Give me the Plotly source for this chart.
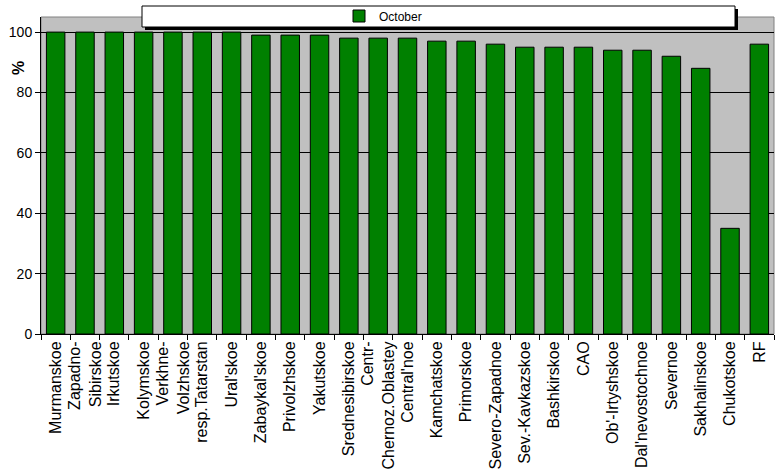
import plotly.graph_objects as go

categories = ["Murmanskoe", "Zapadno-<br>Sibirskoe", "Irkutskoe", "Kolymskoe",
              "Verkhne-<br>Volzhskoe", "resp.Tatarstan", "Ural'skoe", "Zabaykal'skoe",
              "Privolzhskoe", "Yakutskoe", "Srednesibirskoe", "Centr-<br>Chernoz.Oblastey",
              "Central'noe", "Kamchatskoe", "Primorskoe", "Severo-Zapadnoe",
              "Sev.-Kavkazskoe", "Bashkirskoe", "CAO", "Ob'-Irtyshskoe",
              "Dal'nevostochnoe", "Severnoe", "Sakhalinskoe", "Chukotskoe", "RF"]
october = [100, 100, 100, 100, 100, 100, 100, 99, 99, 99, 98, 98, 98, 97, 97, 96,
           95, 95, 95, 94, 94, 92, 88, 35, 96]
y_ticks = [0, 20, 40, 60, 80, 100]

W, H = 775, 474
L, R, T, B = 41, 774, 17, 334
pw, ph = R - L, B - T

def px(x):
    return (x - L) / pw

def py(y):
    return (B - y) / ph

FONT = "Liberation Sans, Arial, sans-serif"

fig = go.Figure()
fig.add_trace(go.Bar(
    x=categories, y=october, name="October",
    marker=dict(color="#008000", line=dict(color="black", width=1)),
))

shapes = [
    dict(type="rect", xref="paper", yref="paper", x0=0, x1=1, y0=0, y1=1,
         line=dict(color="#808080", width=1), layer="below"),
    dict(type="rect", xref="paper", yref="paper", x0=px(145), x1=px(738), y0=py(30), y1=py(9),
         fillcolor="black", line=dict(width=0), layer="above"),
    dict(type="rect", xref="paper", yref="paper", x0=px(142), x1=px(735), y0=py(27), y1=py(6),
         fillcolor="white", line=dict(color="black", width=1), layer="above"),
]

fig.update_layout(
    width=W, height=H,
    margin=dict(l=L, r=W - R, t=T, b=H - B, autoexpand=False),
    paper_bgcolor="white", plot_bgcolor="#C0C0C0",
    bargap=0.37,
    font=dict(family=FONT, size=14, color="black"),
    showlegend=True,
    legend=dict(x=px(383), y=py(16), xanchor="center", yanchor="middle",
                bgcolor="rgba(0,0,0,0)", borderwidth=0, itemwidth=30,
                font=dict(size=12, family=FONT)),
    shapes=shapes,
    annotations=[dict(text="<b>%</b>", xref="paper", yref="paper", x=px(18), y=py(68),
                      showarrow=False, textangle=-90, font=dict(size=16, family=FONT),
                      xanchor="center", yanchor="middle")],
    xaxis=dict(type="category", tickangle=-90, tickson="boundaries", ticks="outside",
               ticklen=5, tickcolor="black", showline=True, linecolor="black", linewidth=1,
               showgrid=False, tickfont=dict(size=16, family=FONT), automargin=False,
               range=[-0.5, len(categories) - 0.5]),
    yaxis=dict(range=[0, 105], tickvals=y_ticks, ticks="outside", ticklen=5, tickcolor="black",
               showline=True, linecolor="black", linewidth=1, showgrid=True,
               gridcolor="black", gridwidth=1, zeroline=False,
               tickfont=dict(size=14, family=FONT), automargin=False),
)

fig.write_html("out.html")
